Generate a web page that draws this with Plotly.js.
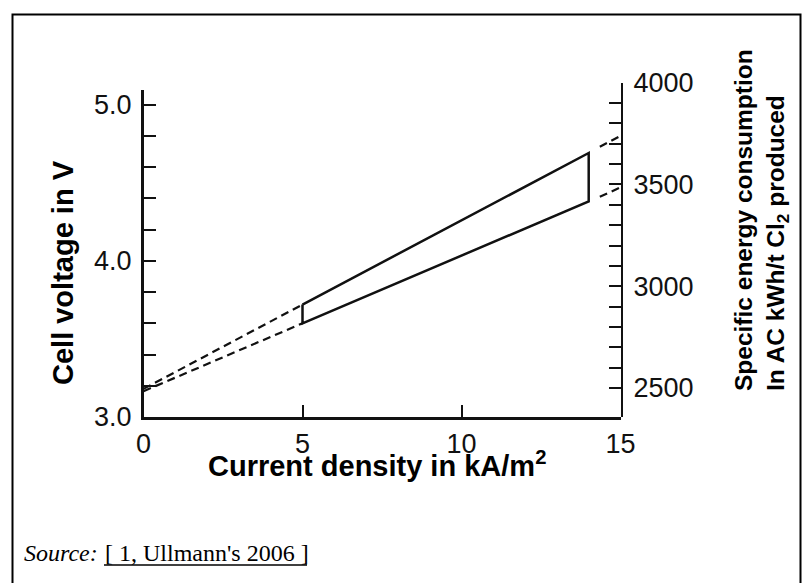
<!DOCTYPE html>
<html><head><meta charset="utf-8">
<script src="https://cdn.plot.ly/plotly-3.0.1.min.js"></script>
<style>html,body{margin:0;padding:0;background:#fff;} #chart{width:802px;height:583px;}</style>
</head><body><div id="chart"></div>
<script>
// ---- data ----
const currentDensity = [5, 14];            // kA/m2, measured range
const voltageHigh = [3.72, 4.69];          // V, upper bound
const voltageLow = [3.60, 4.38];           // V, lower bound
const extrapLeftX = [0, 5];
const extrapLeftHigh = [3.18, 3.72];
const extrapLeftLow = [3.165, 3.60];
const extrapRightX = [14.35, 15];
const extrapRightHigh = [4.73, 4.80];
const extrapRightLow = [4.41, 4.47];
const xTickVals = [0, 5, 10, 15];
const voltageTickVals = [3.0, 4.0, 5.0];
const voltageTickText = ['3.0', '4.0', '5.0'];
const voltageMinorVals = [3.2, 3.4, 3.6, 3.8, 4.2, 4.4, 4.6, 4.8];
const energyTickVals = [2500, 3000, 3500, 4000];
const energyTickText = ['2500', '3000', '3500', '4000'];
const energyMinorVals = [2600, 2700, 2800, 2900, 3100, 3200, 3300, 3400, 3600, 3700, 3800, 3900];

const W = 802, H = 583;
const fx = p => p / W;
const fy = p => 1 - p / H;
const ink = '#111';
const dash = '8px,5px';

const traces = [
  { x: [currentDensity[0], currentDensity[1], currentDensity[1], currentDensity[0], currentDensity[0]],
    y: [voltageHigh[0], voltageHigh[1], voltageLow[1], voltageLow[0], voltageHigh[0]],
    mode: 'lines', line: { color: ink, width: 2.5 }, hoverinfo: 'skip' },
  { x: extrapLeftX, y: extrapLeftHigh, mode: 'lines', line: { color: ink, width: 2.2, dash: dash }, hoverinfo: 'skip' },
  { x: extrapLeftX, y: extrapLeftLow, mode: 'lines', line: { color: ink, width: 2.2, dash: dash }, hoverinfo: 'skip' },
  { x: extrapRightX, y: extrapRightHigh, mode: 'lines', line: { color: ink, width: 2.2, dash: dash }, hoverinfo: 'skip' },
  { x: extrapRightX, y: extrapRightLow, mode: 'lines', line: { color: ink, width: 2.2, dash: dash }, hoverinfo: 'skip' },
  { x: [], y: [], yaxis: 'y2', mode: 'lines', hoverinfo: 'skip' }
];

const tickFont = { family: 'Liberation Sans, Arial, sans-serif', size: 27, color: '#111' };
const titleFont = { family: 'Liberation Sans, Arial, sans-serif', size: 29, color: '#000' };
const minorTicks = vals => ({ tickmode: 'array', tickvals: vals, ticks: 'inside', ticklen: 12, tickwidth: 2, tickcolor: ink, showgrid: false });

const layout = {
  width: W, height: H,
  margin: { l: 0, r: 0, t: 0, b: 0 },
  paper_bgcolor: '#fff', plot_bgcolor: 'rgba(0,0,0,0)',
  showlegend: false,
  xaxis: {
    domain: [fx(143.5), fx(620.5)], range: [0, 15], anchor: 'y',
    showgrid: false, zeroline: false, showline: true, linecolor: ink, linewidth: 2.5,
    ticks: 'inside', ticklen: 12, tickwidth: 2, tickcolor: ink,
    tickmode: 'array', tickvals: xTickVals, ticktext: xTickVals.map(String),
    ticklabelstandoff: 1,
    tickfont: tickFont, fixedrange: true
  },
  yaxis: {
    domain: [fy(417), fy(90)], range: [3.0, 3.0 + (417 - 90) / 156.2], anchor: 'x',
    showgrid: false, zeroline: false, showline: true, linecolor: ink, linewidth: 2.5,
    ticks: 'inside', ticklen: 12, tickwidth: 2, tickcolor: ink,
    tickmode: 'array', tickvals: voltageTickVals, ticktext: voltageTickText,
    minor: minorTicks(voltageMinorVals),
    ticklabelstandoff: 4,
    tickfont: tickFont, fixedrange: true
  },
  yaxis2: {
    domain: [fy(417), fy(82.7)], range: [4000 - (417 - 82.7) / 0.2035, 4000], anchor: 'x', side: 'right',
    showgrid: false, zeroline: false, showline: true, linecolor: ink, linewidth: 2.5,
    ticks: 'inside', ticklen: 12, tickwidth: 2, tickcolor: ink,
    tickmode: 'array', tickvals: energyTickVals, ticktext: energyTickText,
    minor: minorTicks(energyMinorVals),
    ticklabelstandoff: 5,
    tickfont: tickFont, fixedrange: true
  },
  shapes: [
    { type: 'rect', xref: 'paper', yref: 'paper', x0: fx(12.5), x1: fx(800.5), y0: fy(600), y1: fy(14.5),
      line: { color: '#000', width: 2 }, fillcolor: 'rgba(0,0,0,0)' },
    { type: 'line', xref: 'paper', yref: 'paper', x0: fx(104), x1: fx(307), y0: fy(565), y1: fy(565),
      line: { color: '#000', width: 1.5 } }
  ],
  annotations: [
    { xref: 'paper', yref: 'paper', x: fx(63), y: fy(273), xanchor: 'center', yanchor: 'middle',
      text: '<b>Cell voltage in V</b>', textangle: -90, showarrow: false, font: titleFont },
    { xref: 'paper', yref: 'paper', x: fx(377), y: fy(464), xanchor: 'center', yanchor: 'middle',
      text: '<b>Current density in kA/m<sup>2</sup></b>', showarrow: false, font: titleFont },
    { xref: 'paper', yref: 'paper', x: fx(761), y: fy(393), xanchor: 'center', yanchor: 'bottom',
      text: '<b>Specific energy consumption<br>In AC kWh/t Cl<sub>2</sub> produced</b>', textangle: -90, align: 'left',
      showarrow: false, font: { family: 'Liberation Sans, Arial, sans-serif', size: 24.5, color: '#000' } },
    { xref: 'paper', yref: 'paper', x: fx(22), y: fy(553), xanchor: 'left', yanchor: 'middle',
      text: '<i>Source:</i>', showarrow: false,
      font: { family: 'Liberation Serif, Times New Roman, serif', size: 24, color: '#000' } },
    { xref: 'paper', yref: 'paper', x: fx(103), y: fy(553), xanchor: 'left', yanchor: 'middle',
      text: '[ 1, Ullmann\'s 2006 ]', showarrow: false,
      font: { family: 'Liberation Serif, Times New Roman, serif', size: 24, color: '#000' } }
  ]
};

Plotly.newPlot('chart', traces, layout, { displayModeBar: false, staticPlot: true });
</script>
</body></html>
